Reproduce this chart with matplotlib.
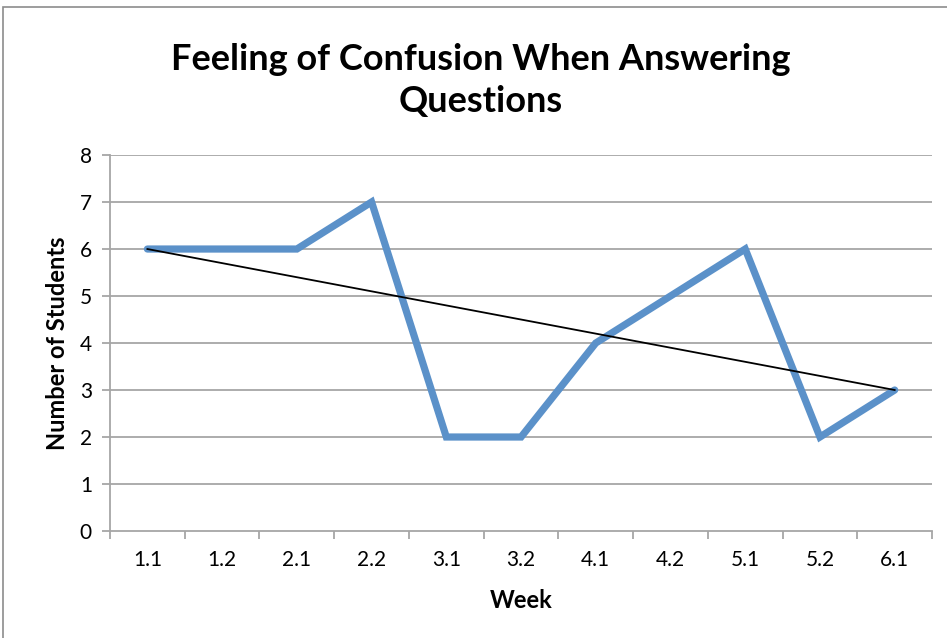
import matplotlib.pyplot as plt
from matplotlib.patches import Rectangle
import numpy as np

plt.rcParams['font.family'] = ['Lato', 'DejaVu Sans']

# Data
weeks = ['1.1', '1.2', '2.1', '2.2', '3.1', '3.2', '4.1', '4.2', '5.1', '5.2', '6.1']
students = [6, 6, 6, 7, 2, 2, 4, 5, 6, 2, 3]

x = np.arange(len(weeks))

fig = plt.figure(figsize=(9.47, 6.38), dpi=100)
ax = fig.add_axes([0.1162, 0.1677, 0.868, 0.5893])

# Outer chart border (Excel chart area)
fig.patches.append(Rectangle((3 / 947, -0.05), 1.1, 1 - 7 / 638 + 0.05,
                             transform=fig.transFigure, fill=False,
                             edgecolor='#8c8c8c', linewidth=1.2))

grid_color = '#a6a6a6'
for yv in range(1, 9):
    ax.axhline(yv, color=grid_color, linewidth=1.3, zorder=1)

ax.plot(x, students, color='#5b91c9', linewidth=5.2,
        solid_capstyle='round', solid_joinstyle='miter', zorder=3)
# trend line drawn from first to last week
ax.plot([x[0], x[-1]], [students[0], students[-1]], color='black',
        linewidth=1.3, zorder=4)

ax.set_xlim(-0.5, len(weeks) - 0.5)
ax.set_ylim(0, 8)
ax.set_yticks(range(0, 9))
ax.set_xticks(x)
ax.set_xticklabels(weeks)
ax.set_xticks(np.arange(-0.5, len(weeks)), minor=True)

for side in ['top', 'right']:
    ax.spines[side].set_visible(False)
for side in ['left', 'bottom']:
    ax.spines[side].set_color(grid_color)
    ax.spines[side].set_linewidth(1.3)

ax.tick_params(axis='x', which='major', length=0, labelsize=15, pad=14)
ax.tick_params(axis='x', which='minor', length=6, width=1.3, color=grid_color, direction='out')
ax.tick_params(axis='y', length=6, width=1.3, color=grid_color, labelsize=15, pad=7)

ax.set_xlabel('Week', fontsize=17, fontweight='bold', labelpad=13)
ax.set_ylabel('Number of Students', fontsize=17, fontweight='bold', labelpad=8)

fig.text(0.508, 0.874, 'Feeling of Confusion When Answering\nQuestions',
         ha='center', va='center', fontsize=26, fontweight='bold',
         linespacing=1.32)

fig.savefig('out.png', dpi=100)
